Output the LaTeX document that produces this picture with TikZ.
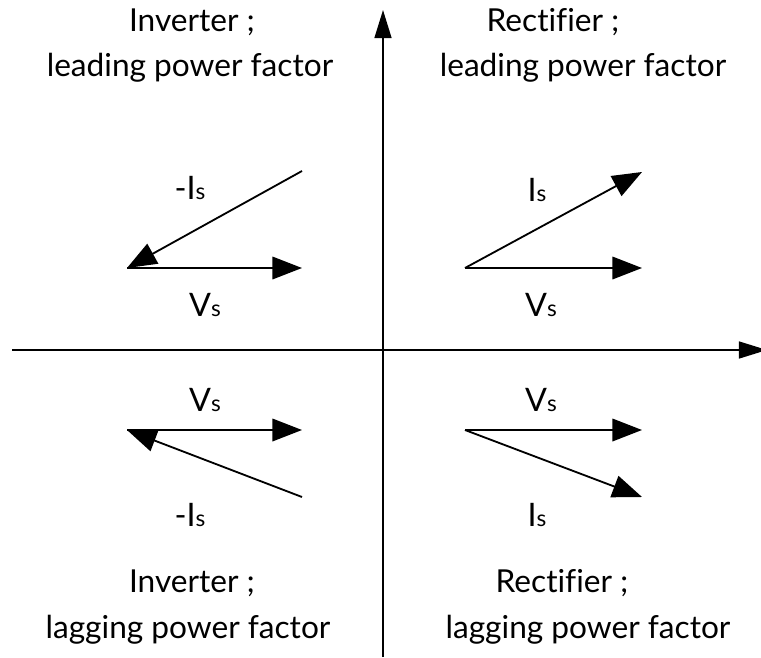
\documentclass[tikz,border=0pt]{standalone}
\usepackage{fontspec}
\setmainfont{Lato}[Ligatures=NoCommon]
\usetikzlibrary{arrows.meta}

% phasor name with a small s
\newcommand{\phs}[1]{#1{\fontsize{16}{16}\selectfont s}}

\begin{document}
\begin{tikzpicture}[x=0.025cm, y=-0.025cm,
    vec/.style={line width=1.3pt, -{Triangle[length=21pt,width=16pt]}},
    axis/.style={line width=1.4pt, -{Triangle[length=20pt,width=12pt]}},
    lbl/.style={font=\fontsize{23}{23}\selectfont, inner sep=0pt},
    ttl/.style={font=\fontsize{22.5}{22.5}\selectfont, inner sep=0pt}]
    \useasboundingbox (0,0) rectangle (761,657);

    % Draw axes
    \coordinate (xl) at (12,350);
    \coordinate (xr) at (767,350);
    \coordinate (yb) at (383,657);
    \coordinate (yt) at (383,10);
    \draw[axis] (xl) -- (xr);
    \draw[axis] (yb) -- (yt);

    % Origins of the phasors
    \coordinate (oA) at (127,268);
    \coordinate (oB) at (465,268);
    \coordinate (oC) at (127,430);
    \coordinate (oD) at (465,430);

    % Quadrant 2: inverter, leading
    \coordinate (vA) at (302,268);
    \coordinate (iA) at (302,171);
    \draw[vec] (oA) -- (vA);
    \draw[vec] (iA) -- (oA);
    \node[lbl] (lvA) at (205,305) {\phs{V}};
    \node[lbl] (liA) at (190,188) {-\phs{I}};

    % Quadrant 1: rectifier, leading
    \coordinate (vB) at (642,268);
    \coordinate (iB) at (642,172);
    \draw[vec] (oB) -- (vB);
    \draw[vec] (oB) -- (iB);
    \node[lbl] (lvB) at (541,305) {\phs{V}};
    \node[lbl] (liB) at (537,190) {\phs{I}};

    % Quadrant 3: inverter, lagging
    \coordinate (vC) at (302,430);
    \coordinate (iC) at (302,497);
    \draw[vec] (oC) -- (vC);
    \draw[vec] (iC) -- (oC);
    \node[lbl] (lvC) at (205,400) {\phs{V}};
    \node[lbl] (liC) at (190,515) {-\phs{I}};

    % Quadrant 4: rectifier, lagging
    \coordinate (vD) at (642,430);
    \coordinate (iD) at (642,497);
    \draw[vec] (oD) -- (vD);
    \draw[vec] (oD) -- (iD);
    \node[lbl] (lvD) at (541,400) {\phs{V}};
    \node[lbl] (liD) at (537,515) {\phs{I}};

    % Titles
    \node[ttl] (tA1) at (192,22) {Inverter ;};
    \node[ttl] (tA2) at (190,68) {leading power factor};
    \node[ttl] (tB1) at (553,22) {Rectifier ;};
    \node[ttl] (tB2) at (583,68) {leading power factor};
    \node[ttl] (tC1) at (192,583) {Inverter ;};
    \node[ttl] (tC2) at (188,630) {lagging power factor};
    \node[ttl] (tD1) at (562,583) {Rectifier ;};
    \node[ttl] (tD2) at (588,630) {lagging power factor};
\end{tikzpicture}
\end{document}
